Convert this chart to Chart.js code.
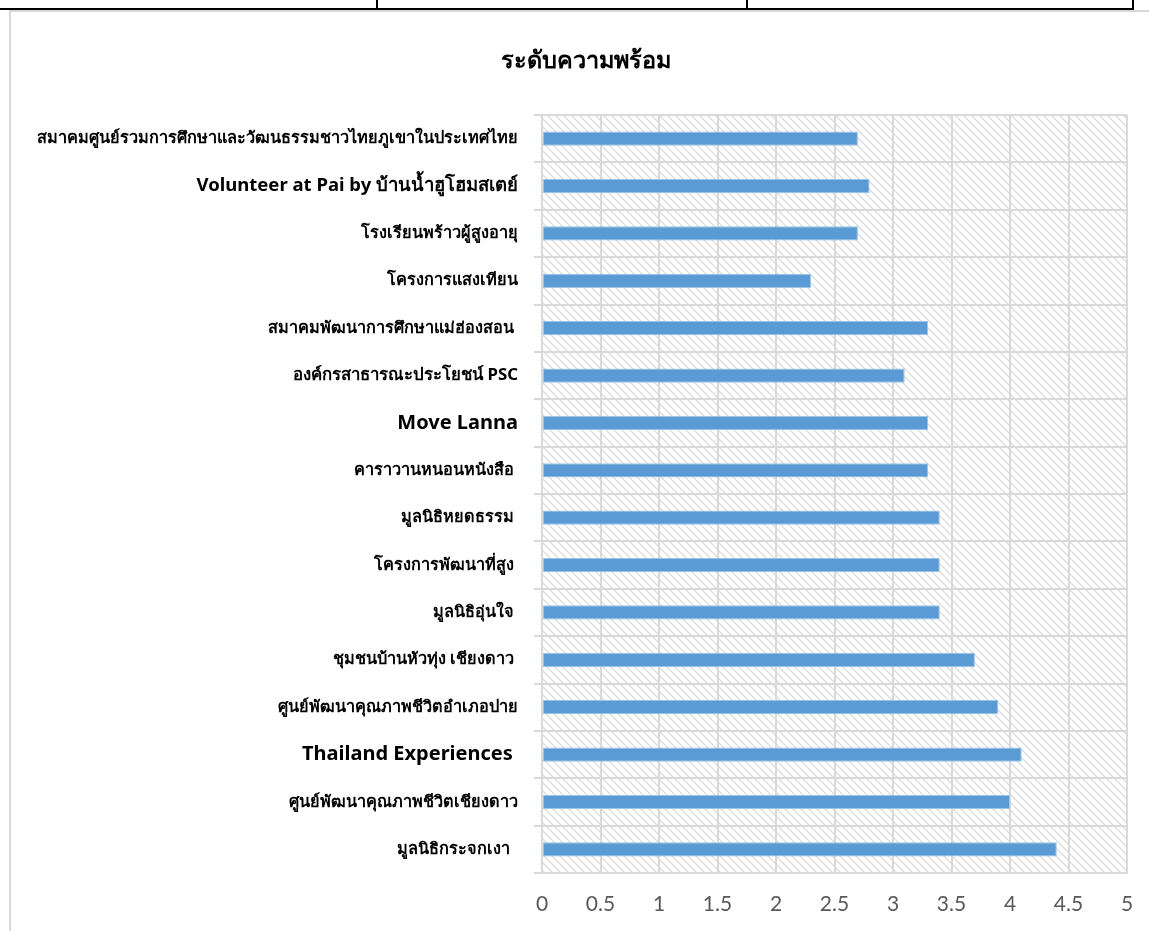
<!DOCTYPE html>
<html>
<head>
<meta charset="utf-8">
<script src="https://cdn.jsdelivr.net/npm/chart.js@4.4.1/dist/chart.umd.min.js"></script>
<style>
  html, body { margin: 0; padding: 0; background: #fff; }
  body { width: 1149px; height: 931px; position: relative; overflow: hidden; }
  .line { position: absolute; }
  #readinessChart { position: absolute; left: 0; top: 0; }
  #chartTitle {
    position: absolute; left: 386px; width: 400px; top: 44px;
    text-align: center; line-height: 30px;
    font-family: Tahoma, "Noto Sans", sans-serif; font-size: 23.5px; font-weight: bold; color: #000;
  }
</style>
</head>
<body>
<!-- remains of the table above the chart -->
<div class="line" style="left:0;top:8px;width:1134px;height:2px;background:#000"></div>
<div class="line" style="left:376px;top:0;width:2px;height:9px;background:#000"></div>
<div class="line" style="left:746px;top:0;width:2px;height:9px;background:#000"></div>
<div class="line" style="left:1132px;top:0;width:2px;height:10px;background:#000"></div>

<canvas id="readinessChart" width="1149" height="931"></canvas>
<div id="chartTitle">ระดับความพร้อม</div>

<!-- chart frame -->
<div class="line" style="left:9px;top:10px;width:1140px;height:2px;background:#d9d9d9"></div>
<div class="line" style="left:9px;top:10px;width:2px;height:921px;background:#d9d9d9"></div>

<script>
// Categories top to bottom
const categories = [
  'สมาคมศูนย์รวมการศึกษาและวัฒนธรรมชาวไทยภูเขาในประเทศไทย',
  'Volunteer at Pai by บ้านน้ำฮูโฮมสเตย์',
  'โรงเรียนพร้าวผู้สูงอายุ',
  'โครงการแสงเทียน',
  'สมาคมพัฒนาการศึกษาแม่ฮ่องสอน ',
  'องค์กรสาธารณะประโยชน์ PSC',
  'Move Lanna',
  'คาราวานหนอนหนังสือ ',
  'มูลนิธิหยดธรรม ',
  'โครงการพัฒนาที่สูง ',
  'มูลนิธิอุ่นใจ ',
  'ชุมชนบ้านหัวทุ่ง เชียงดาว ',
  'ศูนย์พัฒนาคุณภาพชีวิตอำเภอปาย',
  'Thailand Experiences ',
  'ศูนย์พัฒนาคุณภาพชีวิตเชียงดาว',
  'มูลนิธิกระจกเงา  '
];

const readiness = [2.7, 2.8, 2.7, 2.3, 3.3, 3.1, 3.3, 3.3, 3.4, 3.4, 3.4, 3.7, 3.9, 4.1, 4.0, 4.4];

const xTicks = [0, 0.5, 1, 1.5, 2, 2.5, 3, 3.5, 4, 4.5, 5];

// labels written in English (or partly) are shown larger
const largeLabels = ['Move Lanna', 'Thailand Experiences '];
const mixedLabels = ['Volunteer at Pai by บ้านน้ำฮูโฮมสเตย์'];
const psLabels = ['องค์กรสาธารณะประโยชน์ PSC'];

// diagonal hatch used as the plot background
function makeHatch() {
  const c = document.createElement('canvas');
  c.width = 8;
  c.height = 8;
  const g = c.getContext('2d');
  g.strokeStyle = '#dedede';
  g.lineWidth = 1.5;
  g.beginPath();
  g.moveTo(-2, -2); g.lineTo(10, 10);
  g.moveTo(-2, 6); g.lineTo(2, 10);
  g.moveTo(6, -2); g.lineTo(10, 2);
  g.stroke();
  return c;
}

const hatchBackground = {
  id: 'hatchBackground',
  beforeDraw(chart) {
    const { ctx, chartArea } = chart;
    ctx.save();
    ctx.fillStyle = ctx.createPattern(makeHatch(), 'repeat');
    ctx.fillRect(chartArea.left, chartArea.top, chartArea.right - chartArea.left, chartArea.bottom - chartArea.top);
    ctx.restore();
  }
};

const ctx = document.getElementById('readinessChart').getContext('2d');
new Chart(ctx, {
  type: 'bar',
  data: {
    labels: categories,
    datasets: [{
      label: 'ระดับความพร้อม',
      data: readiness,
      backgroundColor: '#5b9bd5',
      borderColor: '#9dc3e6',
      borderWidth: 1,
      borderSkipped: false,
      categoryPercentage: 1,
      barPercentage: 0.3
    }]
  },
  options: {
    indexAxis: 'y',
    responsive: false,
    animation: false,
    layout: { padding: { left: 10, right: 22, top: 115, bottom: 0 } },
    plugins: {
      legend: { display: false },
      tooltip: { enabled: false },
      title: { display: false }
    },
    scales: {
      x: {
        type: 'linear',
        min: 0,
        max: 5,
        afterBuildTicks: (scale) => { scale.ticks = xTicks.map(v => ({ value: v })); },
        afterFit: (scale) => {
          scale.height = 58;
          scale.paddingLeft = 0;
          scale.paddingRight = 0;
        },
        grid: { color: '#d9d9d9', lineWidth: 2, drawTicks: false },
        border: { color: '#d9d9d9', width: 2 },
        ticks: {
          color: '#595959',
          padding: 19,
          callback: (v) => String(v),
          font: { family: 'Lato, "Open Sans", sans-serif', size: 21 }
        }
      },
      y: {
        afterFit: (scale) => { scale.width = 532; },
        grid: { color: '#d9d9d9', lineWidth: 2, offset: true, tickLength: 8 },
        border: { color: '#d9d9d9', width: 2 },
        ticks: {
          color: '#000',
          padding: 16,
          autoSkip: false,
          font: (c) => {
            const lbl = categories[c.index];
            let size = 16.3;
            if (largeLabels.includes(lbl)) size = 20;
            else if (mixedLabels.includes(lbl)) size = 18.5;
            else if (psLabels.includes(lbl)) size = 16.8;
            return { family: 'Tahoma, "Noto Sans", sans-serif', size: size, weight: 'bold' };
          }
        }
      }
    }
  },
  plugins: [hatchBackground]
});
</script>
</body>
</html>
